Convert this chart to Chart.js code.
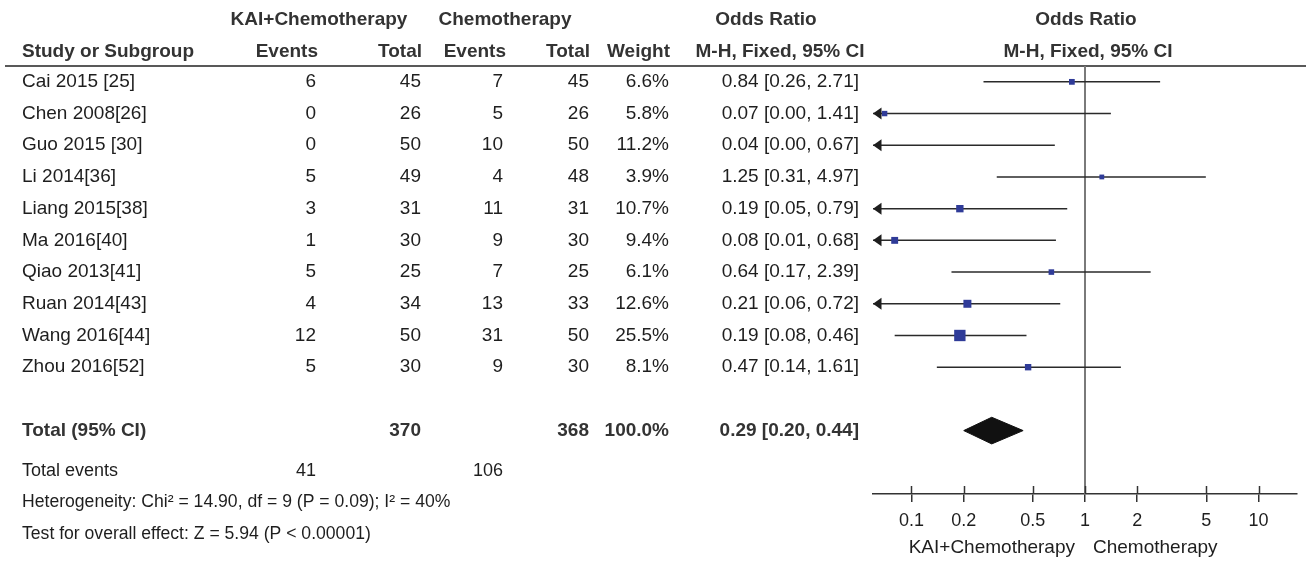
<!DOCTYPE html>
<html>
<head>
<meta charset="utf-8">
<script src="https://cdn.jsdelivr.net/npm/chart.js@4.4.1/dist/chart.umd.min.js"></script>
<style>
  html, body { margin: 0; padding: 0; background: #ffffff; }
  canvas { display: block; }
</style>
</head>
<body>
<canvas id="forest" width="1306" height="561"></canvas>
<script>
// ---- study data -------------------------------------------------------
const studies = ['Cai 2015 [25]', 'Chen 2008[26]', 'Guo 2015 [30]', 'Li 2014[36]', 'Liang 2015[38]',
                 'Ma 2016[40]', 'Qiao 2013[41]', 'Ruan 2014[43]', 'Wang 2016[44]', 'Zhou 2016[52]'];
const kaiEvents   = [6, 0, 0, 5, 3, 1, 5, 4, 12, 5];
const kaiTotal    = [45, 26, 50, 49, 31, 30, 25, 34, 50, 30];
const chemoEvents = [7, 5, 10, 4, 11, 9, 7, 13, 31, 9];
const chemoTotal  = [45, 26, 50, 48, 31, 30, 25, 33, 50, 30];
const weights     = [6.6, 5.8, 11.2, 3.9, 10.7, 9.4, 6.1, 12.6, 25.5, 8.1];
const oddsRatio   = [0.84, 0.07, 0.04, 1.25, 0.19, 0.08, 0.64, 0.21, 0.19, 0.47];
const ciLower     = [0.26, 0.00, 0.00, 0.31, 0.05, 0.01, 0.17, 0.06, 0.08, 0.14];
const ciUpper     = [2.71, 1.41, 0.67, 4.97, 0.79, 0.68, 2.39, 0.72, 0.46, 1.61];

// ---- pooled result ------------------------------------------------------
const pooledKaiTotal = 370;
const pooledChemoTotal = 368;
const pooledWeight = 100.0;
const pooledOR = 0.29;
const pooledLower = 0.20;
const pooledUpper = 0.44;
const totalEventsKai = 41;
const totalEventsChemo = 106;
const heterogeneityText = 'Heterogeneity: Chi² = 14.90, df = 9 (P = 0.09); I² = 40%';
const overallEffectText = 'Test for overall effect: Z = 5.94 (P < 0.00001)';

// ---- odds-ratio axis ------------------------------------------------------
const tickValues = [0.1, 0.2, 0.5, 1, 2, 5, 10];
const tickLabels = ['0.1', '0.2', '0.5', '1', '2', '5', '10'];
const axisMin = 0.06;
const axisMax = 1 / 0.06;

// ---- layout ----------------------------------------------------------------
const FONT = "'Liberation Sans', Arial, Helvetica, sans-serif";
const TEXT = '#1e1e1e';
const HEAD = '#333333';
const totalRow = 11;
const fmt2 = v => v.toFixed(2);
const ciText = (o, l, u) => fmt2(o) + ' [' + fmt2(l) + ', ' + fmt2(u) + ']';

const rowIdx = studies.map((_, i) => i);

// CI segments, one line per study, cut at the left end of the axis
const ciDatasets = studies.map((s, i) => ({
  type: 'scatter',
  label: s,
  showLine: true,
  data: [{ x: Math.max(ciLower[i], axisMin), y: i }, { x: Math.min(ciUpper[i], axisMax), y: i }],
  borderColor: '#2a2a2a',
  borderWidth: 1.5,
  pointRadius: 0,
  pointHoverRadius: 0,
  order: 2
}));

// study weight squares
const squareSide = w => Math.max(4.8, 2.25 * Math.sqrt(w));
const squareDataset = {
  type: 'scatter',
  label: 'Study estimate',
  data: oddsRatio.map((v, i) => ({ x: v, y: i })),
  pointStyle: 'rect',
  pointRadius: weights.map(w => squareSide(w) / Math.SQRT2),
  pointHoverRadius: weights.map(w => squareSide(w) / Math.SQRT2),
  backgroundColor: '#2f3b98',
  borderWidth: 0,
  order: 1
};

// pooled diamond
const diamondHalf = 0.42;
const diamondDataset = {
  type: 'scatter',
  label: 'Total',
  showLine: true,
  data: [
    { x: pooledLower, y: totalRow },
    { x: pooledOR, y: totalRow - diamondHalf },
    { x: pooledUpper, y: totalRow },
    { x: pooledOR, y: totalRow + diamondHalf },
    { x: pooledLower, y: totalRow }
  ],
  borderColor: '#111111',
  backgroundColor: '#111111',
  borderWidth: 1,
  fill: 'shape',
  pointRadius: 0,
  pointHoverRadius: 0,
  order: 1
};

function drawText(ctx, str, x, y, align, bold, size, color) {
  ctx.save();
  ctx.font = (bold ? 'bold ' : '') + size + 'px ' + FONT;
  ctx.fillStyle = color || (bold ? HEAD : TEXT);
  ctx.textAlign = align;
  ctx.textBaseline = 'middle';
  ctx.fillText(str, x, y);
  ctx.restore();
}

const forestTable = {
  id: 'forestTable',
  beforeDatasetsDraw(chart) {
    const { ctx, chartArea } = chart;
    const xs = chart.scales.x;
    // header rule
    ctx.save();
    ctx.strokeStyle = '#222222';
    ctx.lineWidth = 1.5;
    ctx.beginPath();
    ctx.moveTo(5, chartArea.top);
    ctx.lineTo(chart.width, chartArea.top);
    ctx.stroke();
    // line of no effect
    const x1 = Math.round(xs.getPixelForValue(1));
    ctx.strokeStyle = '#7a7a7a';
    ctx.lineWidth = 2;
    ctx.beginPath();
    ctx.moveTo(x1, chartArea.top);
    ctx.lineTo(x1, chartArea.bottom);
    ctx.stroke();
    ctx.restore();
  },
  afterDatasetsDraw(chart) {
    const { ctx, chartArea } = chart;
    const xs = chart.scales.x;
    const ys = chart.scales.y;
    // arrowheads where the interval runs past the axis
    ctx.save();
    ctx.fillStyle = '#1e1e1e';
    rowIdx.forEach(i => {
      if (ciLower[i] <= axisMin) {
        const tip = xs.getPixelForValue(axisMin);
        const y = ys.getPixelForValue(i);
        ctx.beginPath();
        ctx.moveTo(tip, y);
        ctx.lineTo(tip + 8.5, y - 6);
        ctx.lineTo(tip + 8.5, y + 6);
        ctx.closePath();
        ctx.fill();
      }
    });
    // upper half of the tick marks
    ctx.strokeStyle = '#333333';
    ctx.lineWidth = 1.5;
    tickValues.forEach(v => {
      const px = Math.round(xs.getPixelForValue(v)) + 0.5;
      ctx.beginPath();
      ctx.moveTo(px, chartArea.bottom - 8);
      ctx.lineTo(px, chartArea.bottom);
      ctx.stroke();
    });
    ctx.restore();
  },
  afterDraw(chart) {
    const { ctx } = chart;
    const ys = chart.scales.y;
    const S = 19;
    const h1 = ys.getPixelForValue(-1.95);
    const h2 = ys.getPixelForValue(-0.95);
    // column headers
    drawText(ctx, 'KAI+Chemotherapy', 319, h1, 'center', true, S);
    drawText(ctx, 'Chemotherapy', 505, h1, 'center', true, S);
    drawText(ctx, 'Odds Ratio', 766, h1, 'center', true, S);
    drawText(ctx, 'Odds Ratio', 1086, h1, 'center', true, S);
    drawText(ctx, 'Study or Subgroup', 22, h2, 'left', true, S);
    drawText(ctx, 'Events', 318, h2, 'right', true, S);
    drawText(ctx, 'Total', 422, h2, 'right', true, S);
    drawText(ctx, 'Events', 506, h2, 'right', true, S);
    drawText(ctx, 'Total', 590, h2, 'right', true, S);
    drawText(ctx, 'Weight', 670, h2, 'right', true, S);
    drawText(ctx, 'M-H, Fixed, 95% CI', 780, h2, 'center', true, S);
    drawText(ctx, 'M-H, Fixed, 95% CI', 1088, h2, 'center', true, S);
    // study rows
    rowIdx.forEach(i => {
      const y = ys.getPixelForValue(i);
      drawText(ctx, studies[i], 22, y, 'left', false, S);
      drawText(ctx, String(kaiEvents[i]), 316, y, 'right', false, S);
      drawText(ctx, String(kaiTotal[i]), 421, y, 'right', false, S);
      drawText(ctx, String(chemoEvents[i]), 503, y, 'right', false, S);
      drawText(ctx, String(chemoTotal[i]), 589, y, 'right', false, S);
      drawText(ctx, weights[i].toFixed(1) + '%', 669, y, 'right', false, S);
      drawText(ctx, ciText(oddsRatio[i], ciLower[i], ciUpper[i]), 859, y, 'right', false, S);
    });
    // pooled row
    const yt = ys.getPixelForValue(totalRow);
    drawText(ctx, 'Total (95% CI)', 22, yt, 'left', true, S);
    drawText(ctx, String(pooledKaiTotal), 421, yt, 'right', true, S);
    drawText(ctx, String(pooledChemoTotal), 589, yt, 'right', true, S);
    drawText(ctx, pooledWeight.toFixed(1) + '%', 669, yt, 'right', true, S);
    drawText(ctx, ciText(pooledOR, pooledLower, pooledUpper), 859, yt, 'right', true, S);
    // summary lines
    const ye = ys.getPixelForValue(12.27);
    drawText(ctx, 'Total events', 22, ye, 'left', false, 18);
    drawText(ctx, String(totalEventsKai), 316, ye, 'right', false, 18);
    drawText(ctx, String(totalEventsChemo), 503, ye, 'right', false, 18);
    drawText(ctx, heterogeneityText, 22, ys.getPixelForValue(13.25), 'left', false, 17.6);
    drawText(ctx, overallEffectText, 22, ys.getPixelForValue(14.26), 'left', false, 17.6);
    // favours labels under the axis
    drawText(ctx, 'KAI+Chemotherapy', 1075, 548, 'right', false, S);
    drawText(ctx, 'Chemotherapy', 1093, 548, 'left', false, S);
  }
};

new Chart(document.getElementById('forest'), {
  type: 'scatter',
  data: { datasets: [...ciDatasets, squareDataset, diamondDataset] },
  options: {
    responsive: false,
    animation: false,
    devicePixelRatio: 1,
    layout: { padding: { left: 873, right: 9, top: 66, bottom: 0 } },
    plugins: { legend: { display: false }, tooltip: { enabled: false }, filler: { propagate: false } },
    events: [],
    scales: {
      x: {
        type: 'logarithmic',
        position: 'bottom',
        min: axisMin,
        max: axisMax,
        border: { display: true, color: '#333333', width: 1.5 },
        grid: { display: true, drawOnChartArea: false, drawTicks: true, tickLength: 8, color: '#333333', lineWidth: 1.5 },
        ticks: {
          color: TEXT,
          font: { family: FONT, size: 18 },
          padding: 8,
          autoSkip: false,
          maxRotation: 0,
          callback: (v, i) => tickLabels[i]
        },
        afterBuildTicks: s => { s.ticks = tickValues.map(v => ({ value: v })); },
        afterFit: s => { s.height = 67; }
      },
      y: {
        type: 'linear',
        display: false,
        reverse: true,
        min: -0.5,
        max: 13
      }
    }
  },
  plugins: [forestTable]
});
</script>
</body>
</html>
